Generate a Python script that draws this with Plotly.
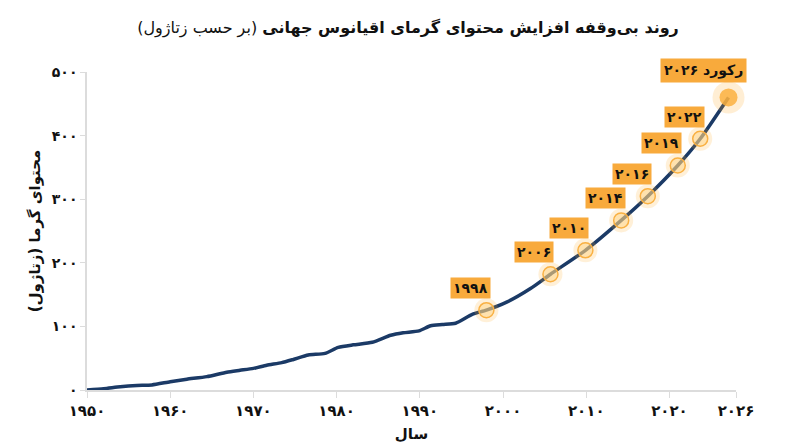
import plotly.graph_objects as go

# Curve (x = position on the year axis, y = zettajoules)
curve_x = [1950, 1952, 1954, 1956, 1957.8, 1960, 1962, 1964.4, 1966.8, 1968.4, 1970,
           1971.6, 1973.4, 1974.8, 1976.6, 1978.6, 1980.2, 1982, 1984.3, 1986.5, 1988,
           1989.9, 1991.3, 1992.7, 1994.3, 1996.3, 1998, 2000.5, 2003.3, 2005.7, 2009.9,
           2014.2, 2017.4, 2021, 2023.7, 2027.1]
curve_y = [0, 2, 5, 7, 8, 13, 17, 21, 28, 31, 34,
           39, 43, 48, 55, 57.5, 67, 71, 75, 86, 90,
           93, 101, 103, 105, 119, 125.5, 138.5, 159.5, 182, 219.6,
           266.7, 304.8, 353, 395, 460]

# Highlighted milestones
mile_x = [1998, 2005.7, 2009.9, 2014.2, 2017.4, 2021, 2023.7]
mile_y = [125.5, 182, 219.6, 266.7, 304.8, 353, 395]
mile_labels = ["۱۹۹۸", "۲۰۰۶", "۲۰۱۰", "۲۰۱۴", "۲۰۱۶", "۲۰۱۹", "۲۰۲۲"]
record_x = [2027.1]
record_y = [460]
record_label = "رکورد ۲۰۲۶"

x_tickvals = [1950, 1960, 1970, 1980, 1990, 2000, 2010, 2020, 2028]
x_ticktext = ["۱۹۵۰", "۱۹۶۰", "۱۹۷۰", "۱۹۸۰", "۱۹۹۰", "۲۰۰۰", "۲۰۱۰", "۲۰۲۰", "۲۰۲۶"]
y_tickvals = [0, 100, 200, 300, 400, 500]
y_ticktext = ["۰", "۱۰۰", "۲۰۰", "۳۰۰", "۴۰۰", "۵۰۰"]

FONT = "DejaVu Sans"
NAVY = "#1B3A66"
ORANGE = "#F8AA3C"

fig = go.Figure()
fig.add_trace(go.Scatter(x=curve_x, y=curve_y, mode="lines",
                         line=dict(color=NAVY, width=3.5, shape="spline", smoothing=0.6),
                         hoverinfo="skip", showlegend=False, cliponaxis=False))
# glow halos
fig.add_trace(go.Scatter(x=mile_x, y=mile_y, mode="markers",
                         marker=dict(size=24, color="rgba(255,170,40,0.18)", line=dict(width=0)),
                         showlegend=False, hoverinfo="skip", cliponaxis=False))
fig.add_trace(go.Scatter(x=mile_x, y=mile_y, mode="markers",
                         marker=dict(size=15, color="rgba(255,215,140,0.55)",
                                     line=dict(color="#F9B042", width=1.5)),
                         showlegend=False, hoverinfo="skip", cliponaxis=False))
fig.add_trace(go.Scatter(x=record_x, y=record_y, mode="markers",
                         marker=dict(size=32, color="rgba(255,170,40,0.2)", line=dict(width=0)),
                         showlegend=False, hoverinfo="skip", cliponaxis=False))
fig.add_trace(go.Scatter(x=record_x, y=record_y, mode="markers",
                         marker=dict(size=18, color="rgba(251,176,64,0.85)", line=dict(width=0)),
                         showlegend=False, hoverinfo="skip", cliponaxis=False))

for x, y, t in zip(mile_x, mile_y, mile_labels):
    fig.add_annotation(x=x, y=y, xref="x", yref="y", text="<b>" + t + "</b>",
                       showarrow=False, xshift=-16, yshift=22,
                       font=dict(family=FONT, size=14, color="#111"),
                       bgcolor=ORANGE, borderpad=2)
fig.add_annotation(x=record_x[0], y=record_y[0], xref="x", yref="y",
                   text="<b>" + record_label + "\u200f</b>",
                   showarrow=False, xshift=-25, yshift=27,
                   font=dict(family=FONT, size=14, color="#111"),
                   bgcolor=ORANGE, borderpad=3)

fig.update_layout(
    width=800, height=447,
    margin=dict(l=79, r=72, t=64, b=65),
    paper_bgcolor="white", plot_bgcolor="white",
    font=dict(family=FONT, color="#111"),
    title=dict(text="<b>روند بی\u200cوقفه افزایش محتوای گرمای اقیانوس جهانی</b> (بر حسب زتاژول)\u200f",
               x=0.5, xanchor="center", y=0.957, yanchor="middle", automargin=False,
               font=dict(family=FONT, size=16, color="#111")),
    xaxis=dict(range=[1950, 2028], tickvals=x_tickvals, ticktext=["<b>" + t + "</b>" for t in x_ticktext],
               showgrid=False, zeroline=False, showline=True, linecolor="#dcdcdc", linewidth=1.5,
               ticks="outside", ticklen=6, tickcolor="#dcdcdc", automargin=False,
               tickfont=dict(family=FONT, size=15, color="#111"),
               title=dict(text="<b>سال</b>", font=dict(family=FONT, size=15, color="#111"), standoff=10)),
    yaxis=dict(range=[0, 500], tickvals=y_tickvals, ticktext=["<b>" + t + "</b>" for t in y_ticktext],
               showgrid=False, zeroline=False, showline=True, linecolor="#dcdcdc", linewidth=1.5,
               ticks="outside", ticklen=5, tickcolor="#dcdcdc", automargin=False,
               tickfont=dict(family=FONT, size=14, color="#111"),
               title=dict(text="<b>محتوای گرما (زتاژول)\u200f</b>", font=dict(family=FONT, size=15, color="#111"),
                          standoff=8)),
)
fig.write_html("out.html")
